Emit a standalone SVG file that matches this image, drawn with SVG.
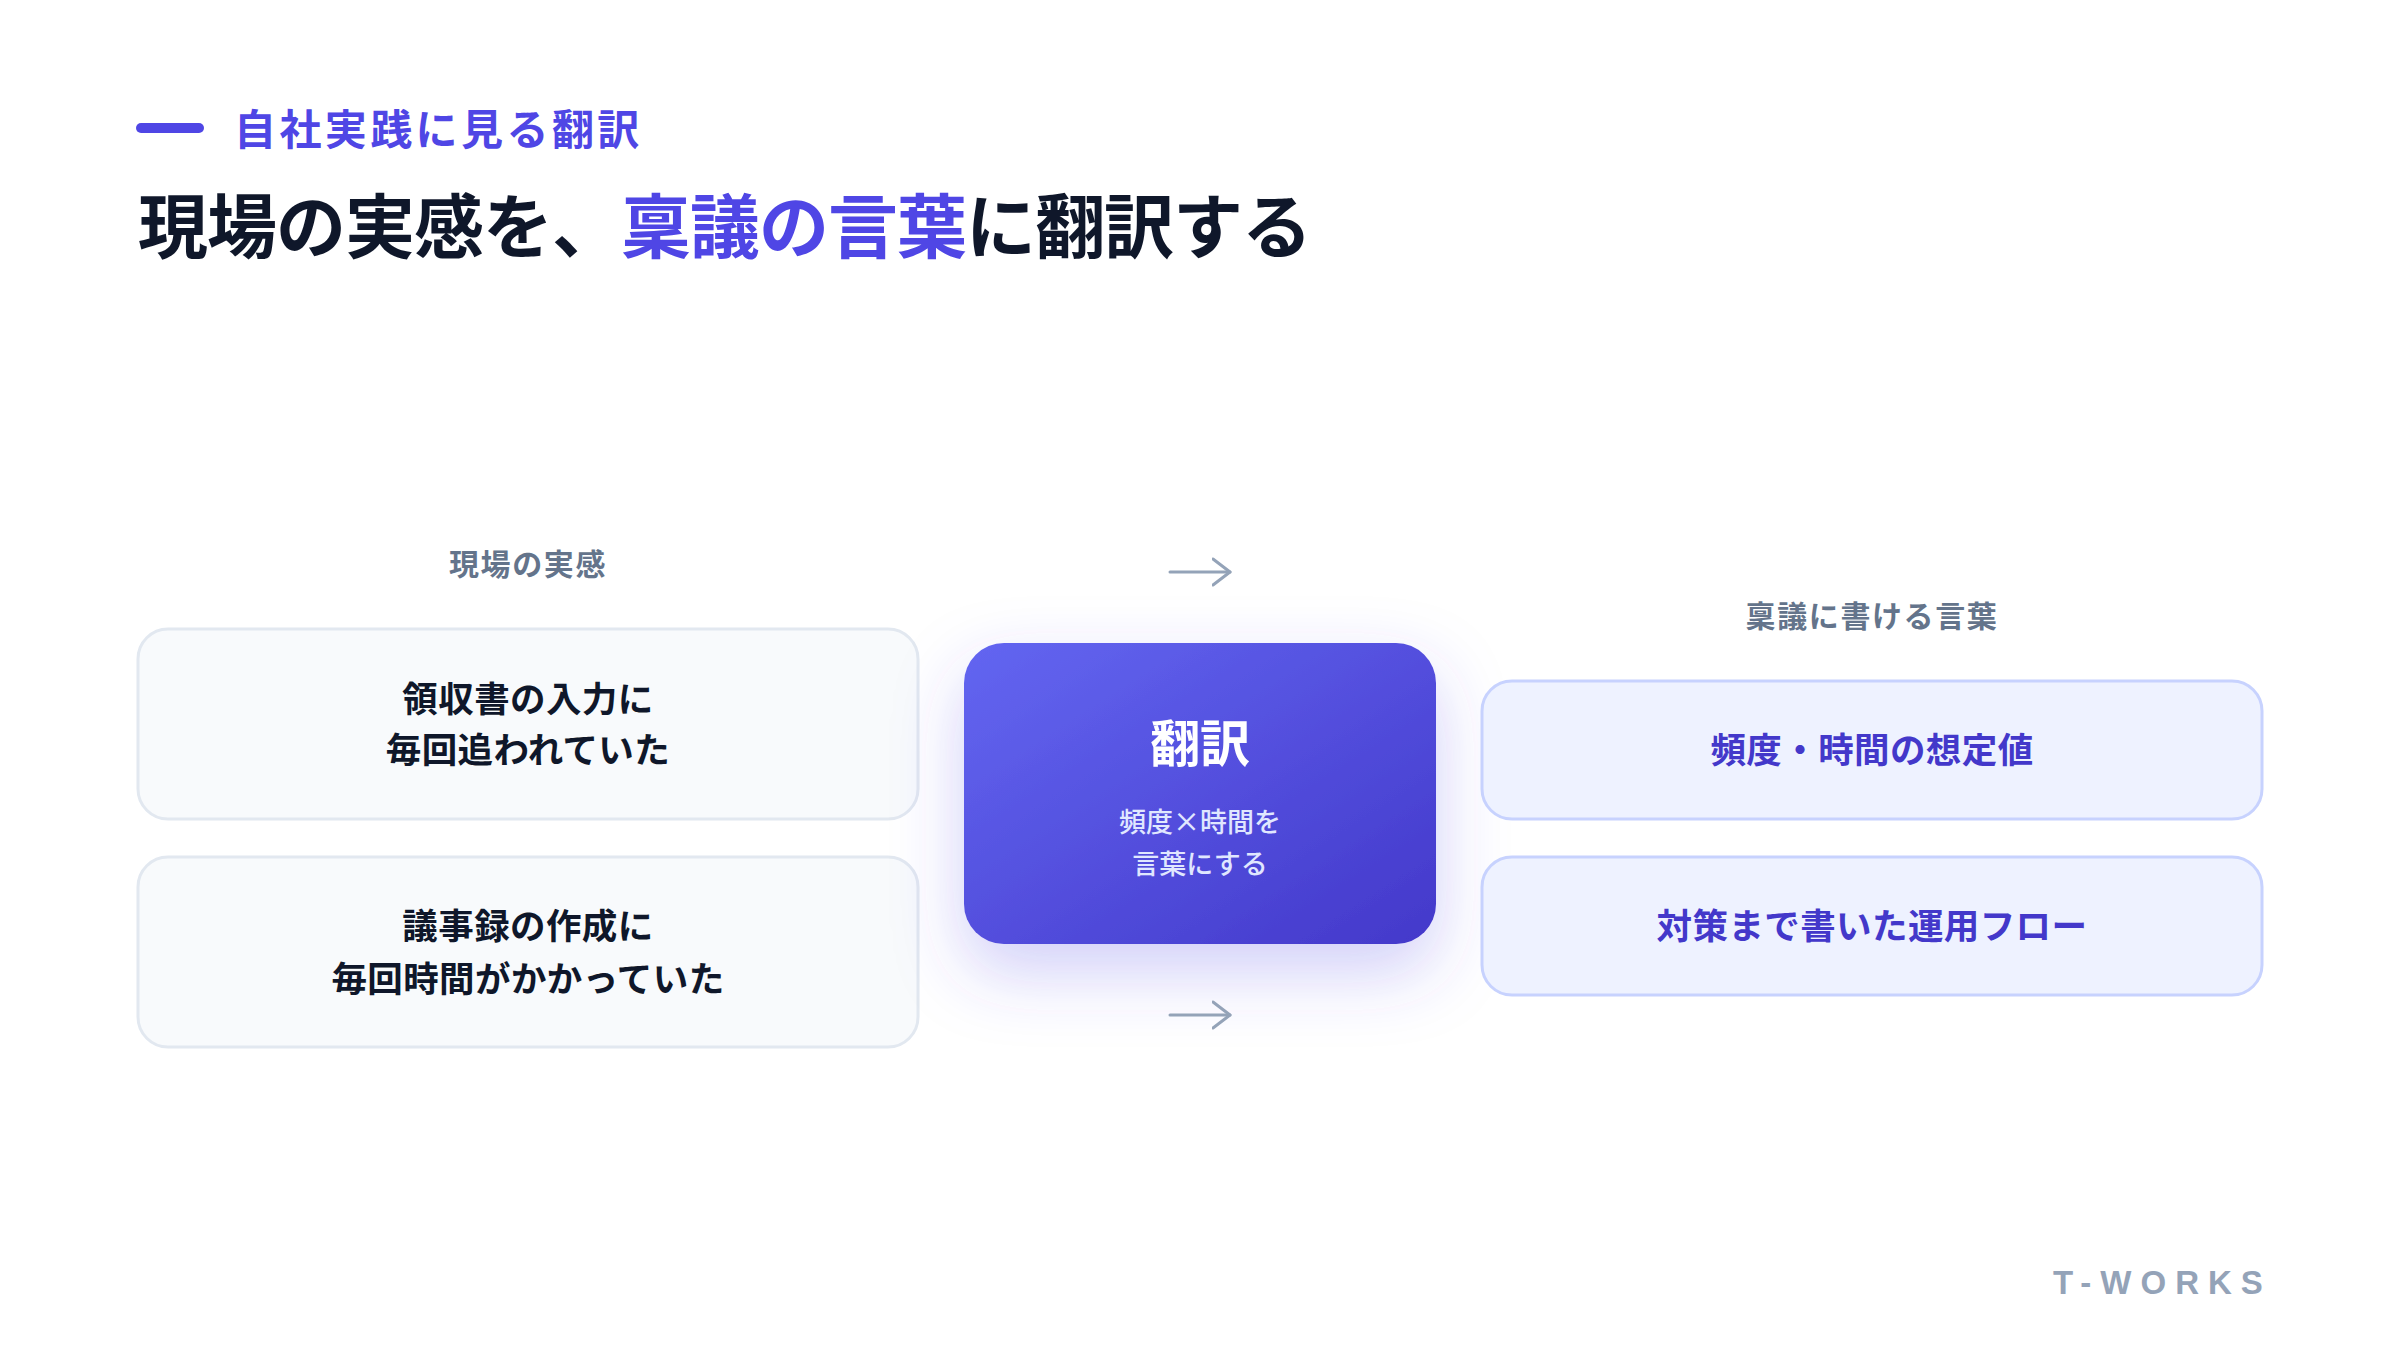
<svg xmlns="http://www.w3.org/2000/svg" width="2400" height="1350" viewBox="0 0 2400 1350">
  <defs>
    <linearGradient id="coreGrad" x1="0" y1="0" x2="1" y2="1">
      <stop offset="0" stop-color="#6366f1"/>
      <stop offset="1" stop-color="#4338ca"/>
    </linearGradient>
    <filter id="coreShadow" x="-40%" y="-40%" width="180%" height="200%">
      <feDropShadow dx="0" dy="28" stdDeviation="34" flood-color="#4f46e5" flood-opacity="0.26"/>
    </filter>
    <marker id="chev" viewBox="0 0 20 30" refX="18" refY="15" markerWidth="20" markerHeight="30" markerUnits="userSpaceOnUse" orient="auto">
      <path d="M1,2 L18,15 L1,28" fill="none" stroke="#94a3b8" stroke-width="3" stroke-linecap="round" stroke-linejoin="round"/>
    </marker>
    <style>
      .jp { font-family: "Noto Sans CJK JP", "Noto Sans", sans-serif; }
      .eyebrow { font-size: 42px; font-weight: 700; fill: #4f46e5; letter-spacing: 3.4px; }
      .title { font-size: 70px; font-weight: 700; fill: #0f172a; letter-spacing: -1px; }
      .hl { fill: #4f46e5; }
      .colhead { font-size: 30px; font-weight: 700; fill: #64748b; letter-spacing: 1.6px; text-anchor: middle; }
      .srcbox { fill: #f8fafc; stroke: #e2e8f0; stroke-width: 3; }
      .srctext { font-size: 35.5px; font-weight: 700; fill: #0f172a; text-anchor: middle; letter-spacing: 0.4px; }
      .dstbox { fill: #eef2ff; stroke: #c7d2fe; stroke-width: 3; }
      .dsttext { font-size: 35.5px; font-weight: 700; fill: #4338ca; text-anchor: middle; letter-spacing: 0.4px; }
      .coretitle { font-size: 50px; font-weight: 700; fill: #ffffff; text-anchor: middle; }
      .coresub { font-size: 27px; font-weight: 500; fill: #e0e7ff; text-anchor: middle; }
      .arrow { fill: none; stroke: #94a3b8; stroke-width: 3; stroke-linecap: round; marker-end: url(#chev); }
      .brand { font-family: "Liberation Sans", Arial, sans-serif; font-size: 33px; font-weight: 700; fill: #94a3b8; letter-spacing: 9px; }
    </style>
  </defs>

  <rect width="2400" height="1350" fill="#ffffff"/>

  <g id="header">
    <rect x="136" y="123" width="68" height="10" rx="5" fill="#4f46e5"/>
    <text class="jp eyebrow" x="234" y="145">自社実践に見る翻訳</text>
    <text class="jp title" x="138" y="253">現場の実感を、<tspan class="hl">稟議の言葉</tspan>に翻訳する</text>
  </g>

  <g id="col-left-head">
    <text class="jp colhead" x="528" y="575">現場の実感</text>
  </g>
  <g id="src-1">
    <rect class="srcbox" x="138" y="629" width="780" height="190" rx="30"/>
    <text class="jp srctext" x="528" y="712">領収書の入力に</text>
    <text class="jp srctext" x="528" y="763">毎回追われていた</text>
  </g>
  <g id="src-2">
    <rect class="srcbox" x="138" y="857" width="780" height="190" rx="30"/>
    <text class="jp srctext" x="528" y="939">議事録の作成に</text>
    <text class="jp srctext" x="528" y="992">毎回時間がかかっていた</text>
  </g>

  <g id="core">
    <rect x="964" y="643" width="472" height="301" rx="40" fill="url(#coreGrad)" filter="url(#coreShadow)"/>
    <text class="jp coretitle" x="1200" y="762">翻訳</text>
    <text class="jp coresub" x="1200" y="832">頻度×時間を</text>
    <text class="jp coresub" x="1200" y="874">言葉にする</text>
  </g>

  <g id="col-right-head">
    <text class="jp colhead" x="1872" y="627">稟議に書ける言葉</text>
  </g>
  <g id="dst-1">
    <rect class="dstbox" x="1482" y="681" width="780" height="138" rx="30"/>
    <text class="jp dsttext" x="1872" y="763">頻度・時間の想定値</text>
  </g>
  <g id="dst-2">
    <rect class="dstbox" x="1482" y="857" width="780" height="138" rx="30"/>
    <text class="jp dsttext" x="1872" y="939">対策まで書いた運用フロー</text>
  </g>

  <g id="connectors">
    <path class="arrow" d="M1170,572 L1230,572"/>
    <path class="arrow" d="M1170,1015 L1230,1015"/>
  </g>

  <g id="brand">
    <text class="brand" x="2053" y="1294">T-WORKS</text>
  </g>
</svg>
